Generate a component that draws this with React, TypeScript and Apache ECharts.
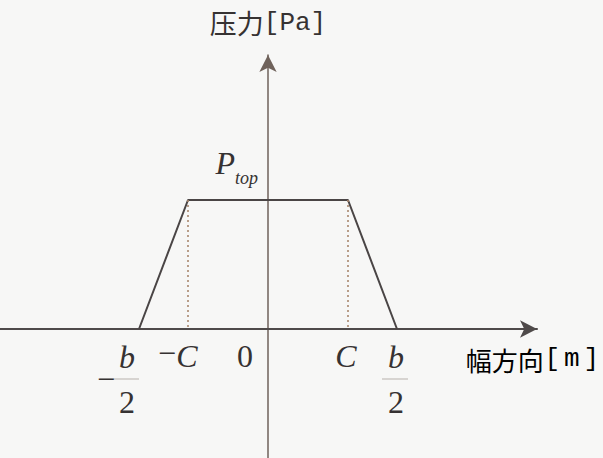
import React, { useEffect, useRef } from 'react';
import * as echarts from 'echarts';

// Trapezoidal pressure profile across the width
const halfWidth = 1.29; // b/2
const cEdge = 0.8; // C
const pTop = 1.29; // P_top

const profileX = [-halfWidth, -cEdge, cEdge, halfWidth];
const profileY = [0, pTop, pTop, 0];

// Symbolic tick labels on the width axis
const tickValues = [-halfWidth, -cEdge, 0, cEdge, halfWidth];
const tickLabels = ['-b/2', '-C', '0', 'C', 'b/2'];

// Pixel offsets of each tick label from its tick position
const labelShift = [
  { dx: -12, minusDx: -33 },
  { dx: -1, minusDx: -21 },
  { dx: -23, minusDx: 0 },
  { dx: -2, minusDx: 0 },
  { dx: -1, minusDx: 0 },
];

const SERIF = '"Liberation Serif", "Times New Roman", serif';
const CJK = '"Noto Sans CJK JP", "Noto Sans CJK SC", sans-serif';
const MONO = '"Liberation Mono", "DejaVu Sans Mono", monospace';
const INK = '#363232';

function glyph(text: string, x: number, y: number, size = 32, align = 'center') {
  const italic = /[A-Za-z]/.test(text);
  return {
    type: 'text',
    x,
    y,
    style: {
      text,
      fontFamily: SERIF,
      fontSize: size,
      fontStyle: italic ? 'italic' : 'normal',
      fill: INK,
      align,
      verticalAlign: 'middle',
    },
  };
}

export default function App() {
  const ref = useRef<HTMLDivElement>(null);

  useEffect(() => {
    if (!ref.current) return;
    const chart = echarts.init(ref.current, undefined, { renderer: 'svg' });

    const tickLabelItem = (params: any, api: any) => {
      const i = params.dataIndex;
      const [px, py] = api.coord([api.value(0), 0]);
      const raw = tickLabels[i];
      const shift = labelShift[i];
      const negative = raw.startsWith('-');
      const body = negative ? raw.slice(1) : raw;
      const children: any[] = [];
      if (body.includes('/')) {
        const [num, den] = body.split('/');
        const cx = px + shift.dx;
        children.push(glyph(num, cx, py + 28));
        children.push({
          type: 'line',
          shape: { x1: cx - 14, y1: py + 50, x2: cx + 12, y2: py + 50 },
          style: { stroke: '#cdc8c4', lineWidth: 1.5 },
        });
        children.push(glyph(den, cx, py + 73));
        if (negative) children.push(glyph('\u2212', px + shift.minusDx, py + 50));
      } else {
        children.push(glyph(body, px + shift.dx, py + 27));
        if (negative) children.push(glyph('\u2212', px + shift.minusDx, py + 24));
      }
      return { type: 'group', children };
    };

    const peakLabelItem = (params: any, api: any) => {
      const [px, py] = api.coord([api.value(0), api.value(1)]);
      return {
        type: 'group',
        children: [
          glyph('P', px - 33, py - 37, 32, 'right'),
          glyph('top', px - 33, py - 22, 18, 'left'),
        ],
      };
    };

    chart.setOption({
      animation: false,
      backgroundColor: '#f7f7f6',
      grid: { left: 0, right: 66, top: 55, bottom: 0, containLabel: false },
      xAxis: {
        type: 'value',
        min: -2.68,
        max: 2.69,
        axisLine: {
          onZero: true,
          symbol: ['none', 'arrow'],
          symbolSize: [13, 17],
          lineStyle: { color: '#4f4a4a', width: 2 },
        },
        axisTick: { show: false },
        axisLabel: { show: false },
        splitLine: { show: false },
      },
      yAxis: {
        type: 'value',
        min: -1.29,
        max: 2.74,
        name: '{c|压力}{m|[Pa]}',
        nameLocation: 'end',
        nameGap: 19,
        nameTextStyle: {
          rich: {
            c: { fontFamily: CJK, fontSize: 27, color: INK },
            m: { fontFamily: MONO, fontSize: 26, color: INK },
          },
        },
        axisLine: {
          onZero: true,
          symbol: ['none', 'arrow'],
          symbolSize: [13, 17],
          lineStyle: { color: '#6f625b', width: 1.5 },
        },
        axisTick: { show: false },
        axisLabel: { show: false },
        splitLine: { show: false },
      },
      graphic: [
        {
          type: 'text',
          right: 4,
          top: 346,
          style: {
            text: '{c|幅方向}{b|[}{m|m}{b|]}',
            rich: {
              c: { fontFamily: CJK, fontSize: 26, color: INK },
              b: { fontFamily: MONO, fontSize: 26, color: INK, width: 17, align: 'center' },
              m: { fontFamily: MONO, fontSize: 26, color: INK, width: 22, align: 'center' },
            },
          },
        },
      ],
      series: [
        {
          name: 'profile',
          type: 'line',
          data: profileX.map((x, i) => [x, profileY[i]]),
          symbol: 'none',
          lineStyle: { color: '#4a4545', width: 2 },
          markLine: {
            silent: true,
            symbol: ['none', 'none'],
            label: { show: false },
            lineStyle: { type: [2, 3], color: '#a8876e', width: 1.6 },
            data: [
              [{ coord: [-cEdge, pTop] }, { coord: [-cEdge, 0] }],
              [{ coord: [cEdge, pTop] }, { coord: [cEdge, 0] }],
            ],
          },
        },
        {
          name: 'tickLabels',
          type: 'custom',
          clip: false,
          silent: true,
          data: tickValues.map((v) => [v, 0]),
          renderItem: tickLabelItem,
        },
        {
          name: 'peakLabel',
          type: 'custom',
          clip: false,
          silent: true,
          data: [[0, pTop]],
          renderItem: peakLabelItem,
        },
      ],
    });

    return () => chart.dispose();
  }, []);

  return (
    <div
      ref={ref}
      style={{ position: 'fixed', left: 0, top: 0, width: 603, height: 458 }}
    />
  );
}
